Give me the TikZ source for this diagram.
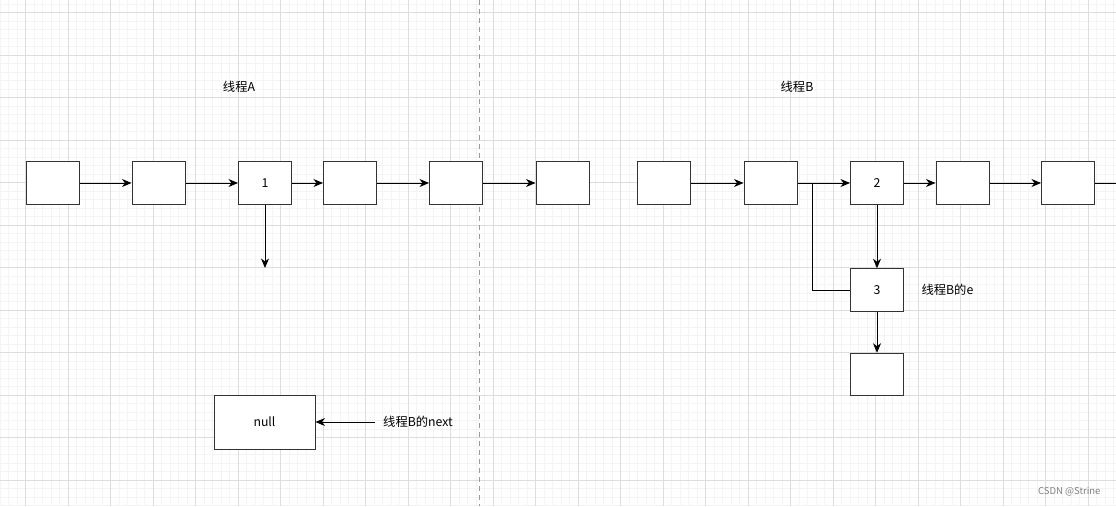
\documentclass[tikz,border=0pt]{standalone}
\usepackage{fontspec}
\setmainfont{Noto Sans CJK SC}
\usetikzlibrary{arrows.meta}

\definecolor{gridminor}{HTML}{F4F4F4}
\definecolor{gridmajor}{HTML}{DDDDDD}
\definecolor{boxline}{HTML}{333333}

\begin{document}
\begin{tikzpicture}[
  x=1pt,
  y=-1pt,
  font=\fontsize{12.3}{14}\selectfont,
  minor/.style={gridminor, line width=0.8pt},
  major/.style={gridmajor, line width=0.9pt},
  cell/.style={draw=boxline, fill=white, line width=1pt, minimum width=53pt, minimum height=42.5pt, inner sep=0pt},
  link/.style={black, line width=0.9pt, -{Stealth[length=9.5pt,width=8pt,inset=3pt]}},
  plain/.style={black, line width=0.9pt},
  split/.style={gray!80, line width=0.9pt, dash pattern=on 5pt off 4pt},
]
  \useasboundingbox (0,0) rectangle (1116,506);
  \fill[white] (0,0) rectangle (1116,506);

  % grid
  \foreach \i in {0,...,131} \draw[minor] (\i*8.5,0) -- (\i*8.5,506);
  \foreach \j in {0,...,59} \draw[minor] (0,4+\j*8.5) -- (1116,4+\j*8.5);
  \foreach \i in {0,...,25} \draw[major] (25.5+\i*42.5,0) -- (25.5+\i*42.5,506);
  \foreach \j in {0,...,11} \draw[major] (0,12.5+\j*42.5) -- (1116,12.5+\j*42.5);

  % divider
  \draw[split] (479,0) -- (479,506);

  % thread A
  \node (titleA) at (239,87) {线程A};
  \node[cell] (a1) at (52.5,183) {};
  \node[cell] (a2) at (158.5,183) {};
  \node[cell] (a3) at (265,183) {1};
  \node[cell] (a4) at (350,183) {};
  \node[cell] (a5) at (456,183) {};
  \node[cell] (a6) at (562.5,183) {};
  \coordinate (a3end) at (265,268);
  \draw[link] (a1) -- (a2);
  \draw[link] (a2) -- (a3);
  \draw[link] (a3) -- (a4);
  \draw[link] (a4) -- (a5);
  \draw[link] (a5) -- (a6);
  \draw[link] (a3) -- (a3end);

  \node[cell, minimum width=101pt, minimum height=54pt] (null) at (264.5,422) {null};
  \node[anchor=west, inner sep=8pt] (nextlbl) at (375,422) {线程B的next};
  \draw[link] (nextlbl) -- (null);

  % thread B
  \node (titleB) at (797,87) {线程B};
  \node[cell] (b1) at (664,183) {};
  \node[cell] (b2) at (770.5,183) {};
  \node[cell] (b3) at (877,183) {2};
  \node[cell] (b4) at (962.5,183) {};
  \node[cell] (b5) at (1068,183) {};
  \node[cell] (e) at (877,290) {3};
  \node[cell] (f) at (877,374.5) {};
  \coordinate (fork) at (812,183);
  \coordinate (edge) at (1117,183);
  \draw[link] (b1) -- (b2);
  \draw[link] (b2) -- (b3);
  \draw[link] (b3) -- (e);
  \draw[link] (b3) -- (b4);
  \draw[link] (b4) -- (b5);
  \draw[plain] (b5) -- (edge);
  \draw[link] (e) -- (f);
  \draw[plain] (e.west) -| (fork);
  \node[anchor=west] (elbl) at (918,290) {线程B的e};

  % watermark
  \node[anchor=east, gray, font=\fontsize{9.5}{11}\selectfont] (mark) at (1104,492) {CSDN @Strine};
\end{tikzpicture}
\end{document}
